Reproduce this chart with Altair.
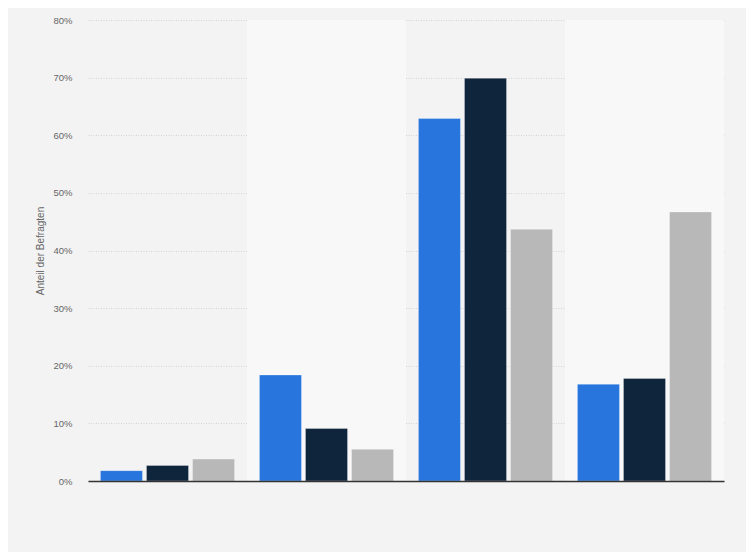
import altair as alt
import pandas as pd

groups = ["Gruppe 1", "Gruppe 2", "Gruppe 3", "Gruppe 4"]
series = ["Serie 1", "Serie 2", "Serie 3"]
serie1 = [1.8, 18.4, 62.9, 16.8]
serie2 = [2.7, 9.1, 69.9, 17.8]
serie3 = [3.8, 5.5, 43.7, 46.7]
colors = ["#2876dd", "#0f253c", "#b8b8b8"]
y_ticks = [0, 10, 20, 30, 40, 50, 60, 70, 80]
band_groups = ["Gruppe 2", "Gruppe 4"]

rows = []
for s, vals in zip(series, [serie1, serie2, serie3]):
    for g, v in zip(groups, vals):
        rows.append({"group": g, "series": s, "value": v})
df = pd.DataFrame(rows)
bands = pd.DataFrame({"group": band_groups})

W, H = 636, 461

x_enc = alt.X("group:N", sort=groups,
              scale=alt.Scale(domain=groups, paddingInner=0, paddingOuter=0),
              axis=alt.Axis(labels=False, ticks=False, title=None, domain=True,
                            domainColor="#333333", domainWidth=1.5))

band_layer = alt.Chart(bands).mark_rect(color="#f8f8f8").encode(
    x=x_enc,
    y=alt.value(0),
    y2=alt.value(H),
)

bars = alt.Chart(df).mark_bar(stroke="#ffffff", strokeWidth=0.6, strokeOpacity=0.5).encode(
    x=x_enc,
    xOffset=alt.XOffset("series:N", sort=series,
                        scale=alt.Scale(domain=series, paddingInner=0.087, paddingOuter=0.27)),
    y=alt.Y("value:Q", scale=alt.Scale(domain=[0, 80], nice=False),
            axis=alt.Axis(values=y_ticks, labelExpr="datum.value + '%'",
                          title="Anteil der Befragten", titleFontSize=10,
                          titleFontWeight="normal", titleColor="#666666",
                          titleFont="Liberation Sans", titleX=-48, titleBaseline="middle",
                          labelFont="Liberation Sans", labelFontSize=9.5,
                          labelColor="#666666", labelPadding=16,
                          ticks=False, domain=False, grid=True,
                          gridColor="#d4d4d4", gridDash=[1, 1.5], gridWidth=1)),
    color=alt.Color("series:N", sort=series,
                    scale=alt.Scale(domain=series, range=colors), legend=None),
)

chart = alt.layer(band_layer, bars).properties(
    width=W, height=H,
    autosize=alt.AutoSizeParams(type="none"),
    padding={"left": 80, "top": 12, "right": 22, "bottom": 71},
    background="#f3f3f3",
).configure_view(stroke=None)

chart.save("out.html", embed_options={"renderer": "svg", "actions": False})
